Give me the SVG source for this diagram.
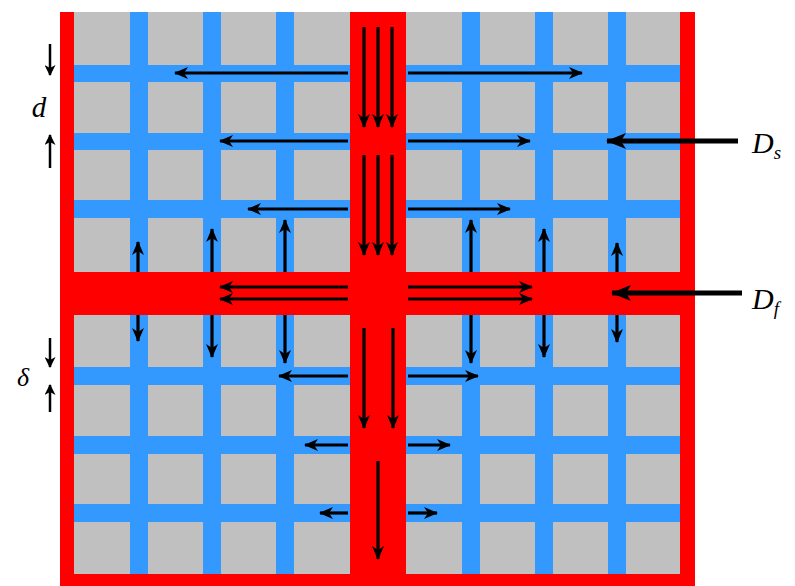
<svg xmlns="http://www.w3.org/2000/svg" width="795" height="586" viewBox="0 0 795 586">
<style>
.gray{fill:#C0C0C0}
.blue{fill:#3399FF}
.red{fill:#FF0000}
.arr{stroke:#000;stroke-width:3.2;fill:none;marker-end:url(#ah)}
.big{stroke:#000;stroke-width:5;fill:none;marker-end:url(#ahb)}
.dim{stroke:#000;stroke-width:2.5;fill:none;marker-end:url(#ahs)}
.lab{font-family:"Liberation Serif","Times New Roman",serif;font-style:italic;fill:#000}
</style>
<defs>
<marker id="ah" viewBox="0 0 14 12" refX="13" refY="6" markerWidth="14" markerHeight="12" orient="auto" markerUnits="userSpaceOnUse"><path d="M0,0 L14,6 L0,12 L4,6 Z" fill="#000"/></marker>
<marker id="ahb" viewBox="0 0 20 16" refX="19" refY="8" markerWidth="20" markerHeight="16" orient="auto" markerUnits="userSpaceOnUse"><path d="M0,0 L20,8 L0,16 L5,8 Z" fill="#000"/></marker>
<marker id="ahs" viewBox="0 0 11 11" refX="10" refY="5.5" markerWidth="11" markerHeight="11" orient="auto" markerUnits="userSpaceOnUse"><path d="M0,0 L11,5.5 L0,11 L3,5.5 Z" fill="#000"/></marker>
</defs>
<g id="grid">
<rect class="gray" x="74" y="12" width="606" height="562"/>
<rect class="blue" x="130" y="12" width="18" height="562"/>
<rect class="blue" x="203" y="12" width="18" height="562"/>
<rect class="blue" x="276" y="12" width="18" height="562"/>
<rect class="blue" x="462" y="12" width="18" height="562"/>
<rect class="blue" x="535" y="12" width="18" height="562"/>
<rect class="blue" x="608" y="12" width="18" height="562"/>
<rect class="blue" x="74" y="65" width="606" height="17"/>
<rect class="blue" x="74" y="133" width="606" height="17"/>
<rect class="blue" x="74" y="200" width="606" height="18"/>
<rect class="blue" x="74" y="367" width="606" height="18"/>
<rect class="blue" x="74" y="436" width="606" height="18"/>
<rect class="blue" x="74" y="504" width="606" height="18"/>
<rect class="red" x="350" y="12" width="56" height="574"/>
<rect class="red" x="60" y="272" width="635" height="43"/>
<rect class="red" x="60" y="12" width="14" height="574"/>
<rect class="red" x="680" y="12" width="15" height="574"/>
<rect class="red" x="60" y="574" width="635" height="12"/>
</g>
<g id="connectors">
<line class="arr" x1="348" y1="73" x2="175" y2="73"/>
<line class="arr" x1="408" y1="73" x2="582" y2="73"/>
<line class="arr" x1="348" y1="141" x2="220" y2="141"/>
<line class="arr" x1="408" y1="141" x2="530" y2="141"/>
<line class="arr" x1="348" y1="209" x2="248" y2="209"/>
<line class="arr" x1="408" y1="209" x2="510" y2="209"/>
<line class="arr" x1="364" y1="27" x2="364" y2="127"/>
<line class="arr" x1="378" y1="27" x2="378" y2="127"/>
<line class="arr" x1="392" y1="27" x2="392" y2="127"/>
<line class="arr" x1="364" y1="155" x2="364" y2="255"/>
<line class="arr" x1="378" y1="155" x2="378" y2="255"/>
<line class="arr" x1="392" y1="155" x2="392" y2="255"/>
<line class="arr" x1="348" y1="287" x2="220" y2="287"/>
<line class="arr" x1="348" y1="299" x2="220" y2="299"/>
<line class="arr" x1="408" y1="287" x2="532" y2="287"/>
<line class="arr" x1="408" y1="299" x2="532" y2="299"/>
<line class="arr" x1="138" y1="272" x2="138" y2="242"/>
<line class="arr" x1="212" y1="272" x2="212" y2="229"/>
<line class="arr" x1="285" y1="272" x2="285" y2="220"/>
<line class="arr" x1="471" y1="272" x2="471" y2="220"/>
<line class="arr" x1="544" y1="272" x2="544" y2="229"/>
<line class="arr" x1="617" y1="272" x2="617" y2="243"/>
<line class="arr" x1="138" y1="315" x2="138" y2="341"/>
<line class="arr" x1="212" y1="315" x2="212" y2="357"/>
<line class="arr" x1="285" y1="315" x2="285" y2="363"/>
<line class="arr" x1="471" y1="315" x2="471" y2="363"/>
<line class="arr" x1="544" y1="315" x2="544" y2="357"/>
<line class="arr" x1="617" y1="315" x2="617" y2="342"/>
<line class="arr" x1="364" y1="328" x2="364" y2="428"/>
<line class="arr" x1="393" y1="328" x2="393" y2="428"/>
<line class="arr" x1="348" y1="376" x2="279" y2="376"/>
<line class="arr" x1="408" y1="376" x2="478" y2="376"/>
<line class="arr" x1="348" y1="445" x2="305" y2="445"/>
<line class="arr" x1="408" y1="445" x2="450" y2="445"/>
<line class="arr" x1="348" y1="513" x2="320" y2="513"/>
<line class="arr" x1="408" y1="513" x2="437" y2="513"/>
<line class="arr" x1="378" y1="461" x2="378" y2="559"/>
<line class="big" x1="738" y1="141" x2="607" y2="141"/>
<line class="big" x1="742" y1="293" x2="612" y2="293"/>
<line class="dim" x1="50" y1="44" x2="50" y2="75"/>
<line class="dim" x1="50" y1="168" x2="50" y2="135"/>
<line class="dim" x1="50" y1="338" x2="50" y2="367"/>
<line class="dim" x1="50" y1="412" x2="50" y2="385"/>
</g>
<g id="labels">
<text class="lab" x="39" y="117" font-size="29" text-anchor="middle">d</text>
<text class="lab" x="23" y="386" font-size="26" text-anchor="middle">δ</text>
<text class="lab" x="752" y="153" font-size="30">D<tspan font-size="19" dy="6">s</tspan></text>
<text class="lab" x="752" y="309" font-size="30">D<tspan font-size="19" dy="6">f</tspan></text>
</g>
</svg>
